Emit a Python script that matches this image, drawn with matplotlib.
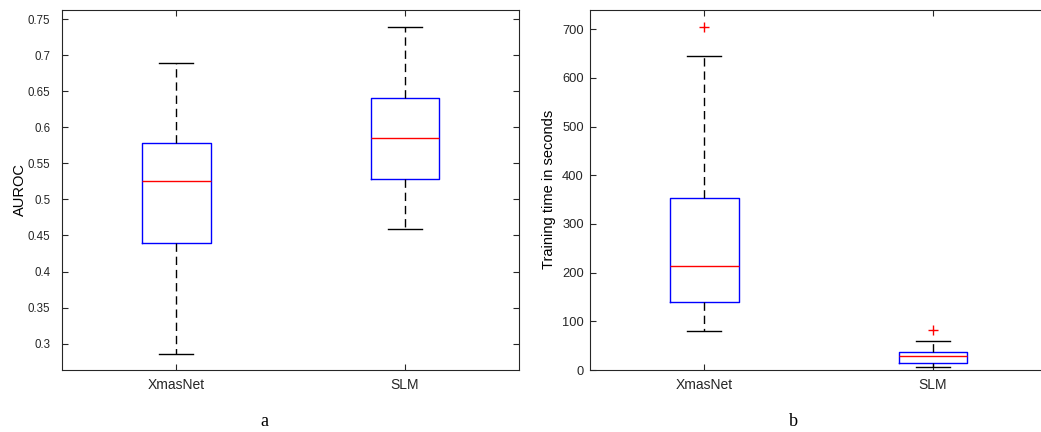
import matplotlib
matplotlib.use("Agg")
import matplotlib.pyplot as plt

plt.rcParams['font.family'] = ['Liberation Sans', 'DejaVu Sans']

# Boxplot summaries
groups = ["XmasNet", "SLM"]

# a) AUROC
auroc_whislo = [0.285, 0.459]
auroc_q1 = [0.439, 0.528]
auroc_med = [0.526, 0.585]
auroc_q3 = [0.579, 0.641]
auroc_whishi = [0.689, 0.740]
auroc_fliers = [[], []]

# b) training time (s)
time_whislo = [81, 5.5]
time_q1 = [139, 15]
time_med = [214, 28]
time_q3 = [354, 37]
time_whishi = [645, 60]
time_fliers = [[705], [82]]

axcol = '#262626'


def make_stats(lo, q1, med, q3, hi, fl):
    return [dict(whislo=lo[i], q1=q1[i], med=med[i], q3=q3[i], whishi=hi[i],
                 fliers=fl[i], label=groups[i]) for i in range(len(groups))]


def draw(ax, stats, ylim, yticks, ylabel, ypad, ysize, lpad):
    ax.bxp(stats, positions=[1, 2], widths=0.3, capwidths=0.15,
           boxprops=dict(color='blue', linewidth=1.0),
           medianprops=dict(color='red', linewidth=1.0),
           whiskerprops=dict(color='black', linestyle=(0, (6, 3.5)), linewidth=1.0),
           capprops=dict(color='black', linewidth=1.0),
           flierprops=dict(marker='+', markeredgecolor='red', markersize=7,
                           linestyle='none'))
    ax.set_xlim(0.5, 2.5)
    ax.set_ylim(*ylim)
    ax.set_yticks(yticks)
    ax.set_yticklabels([('%g' % t) for t in yticks])
    ax.set_xticks([1, 2])
    ax.set_xticklabels(groups)
    ax.set_ylabel(ylabel, fontsize=10.5, color='black', labelpad=lpad)
    ax.tick_params(direction='in', top=True, right=True, length=4,
                   colors=axcol, labelcolor=axcol, width=0.8)
    ax.tick_params(axis='x', pad=6, labelsize=10)
    ax.tick_params(axis='y', pad=ypad, labelsize=ysize)
    for s in ax.spines.values():
        s.set_color(axcol)
        s.set_linewidth(0.8)


fig = plt.figure(figsize=(10.41, 4.32), dpi=100)
ax1 = fig.add_axes([0.0596, 0.1435, 0.439, 0.834])
ax2 = fig.add_axes([0.5668, 0.1435, 0.46, 0.834])
# keep the same data scale as the left panel; right edge runs off the page
ax2_xmax = 0.5 + 2.0 * 0.46 / 0.439

draw(ax1, make_stats(auroc_whislo, auroc_q1, auroc_med, auroc_q3, auroc_whishi, auroc_fliers),
     (0.2633, 0.7633), [0.3, 0.35, 0.4, 0.45, 0.5, 0.55, 0.6, 0.65, 0.7, 0.75], 'AUROC',
     8.5, 8.3, 0.5)
draw(ax2, make_stats(time_whislo, time_q1, time_med, time_q3, time_whishi, time_fliers),
     (0, 740), [0, 100, 200, 300, 400, 500, 600, 700], 'Training time in seconds',
     4.5, 9.3, 4)
ax2.set_xlim(0.5, ax2_xmax)

fig.text(264 / 1041, 1 - 421 / 432, 'a', family='Liberation Serif', fontsize=13,
         ha='center', va='center')
fig.text(793 / 1041, 1 - 421 / 432, 'b', family='Liberation Serif', fontsize=13,
         ha='center', va='center')

fig.savefig('out.png', dpi=100)
